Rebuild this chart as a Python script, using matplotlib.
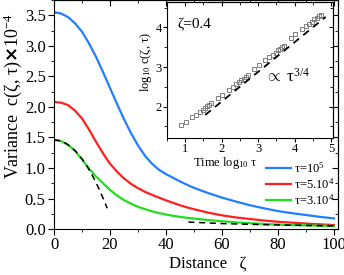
import numpy as np
import matplotlib
matplotlib.use('Agg')
import matplotlib.pyplot as plt
from matplotlib.ticker import MultipleLocator

plt.rcParams['font.family'] = ['Liberation Serif', 'DejaVu Serif']
plt.rcParams['mathtext.fontset'] = 'custom'
plt.rcParams['mathtext.rm'] = 'Liberation Serif'
plt.rcParams['mathtext.it'] = 'Liberation Serif:italic'

# main panel: variance profiles
dist = [0, 2.5, 5, 7.5, 10, 12.5, 15, 17.5, 20, 22.5, 25, 27.5, 30, 32.5, 35, 37.5, 40,
        42.5, 45, 47.5, 50, 55, 60, 65, 70, 75, 80, 85, 90, 95, 100]
var_1e5 = [3.55, 3.53, 3.47, 3.37, 3.23, 3.04, 2.82, 2.57, 2.31, 2.05, 1.80, 1.57, 1.37,
           1.20, 1.07, 0.97, 0.90, 0.84, 0.78, 0.725, 0.675, 0.59, 0.515, 0.45, 0.39, 0.34,
           0.295, 0.26, 0.23, 0.20, 0.175]
var_5e4 = [2.08, 2.07, 2.03, 1.94, 1.81, 1.63, 1.43, 1.24, 1.07, 0.94, 0.83, 0.74, 0.67,
           0.61, 0.56, 0.515, 0.47, 0.43, 0.39, 0.355, 0.325, 0.27, 0.225, 0.19, 0.165, 0.14,
           0.12, 0.105, 0.09, 0.078, 0.066]
var_3e4 = [1.46, 1.44, 1.38, 1.28, 1.14, 0.99, 0.86, 0.75, 0.64, 0.55, 0.475, 0.415, 0.365,
           0.325, 0.29, 0.262, 0.238, 0.218, 0.20, 0.185, 0.172, 0.148, 0.128, 0.11, 0.096,
           0.084, 0.074, 0.066, 0.06, 0.055, 0.05]
labels = [r'τ=10$^5$', r'τ=5.10$^4$', r'τ=3.10$^4$']
colors = ['#1f7fff', '#ff1f1f', '#1fdf1f']

# short distance approximation (dashed)
near_x = [0, 2, 4, 6, 8, 10, 12, 14, 16, 18, 19]
near_y = [1.46, 1.448, 1.41, 1.348, 1.262, 1.15, 1.014, 0.852, 0.666, 0.456, 0.341]
# long distance approximation (dashed)
far_x = [48, 60, 70, 80, 90, 100]
far_y = [0.115, 0.09, 0.078, 0.068, 0.06, 0.053]

# inset: log10 c at zeta=0.4 vs log10 time
log_t = [0.90, 1.02, 1.20, 1.31, 1.40, 1.48, 1.54, 1.60, 1.66, 1.71,
         1.90, 2.02, 2.20, 2.31, 2.40, 2.48, 2.54, 2.60, 2.66, 2.71,
         2.90, 3.02, 3.20, 3.31, 3.40, 3.48, 3.54, 3.60, 3.66, 3.71,
         3.90, 4.02, 4.20, 4.31, 4.40, 4.48, 4.54, 4.60, 4.66, 4.71]
log_c = [1.54, 1.60, 1.73, 1.80, 1.87, 1.92, 1.97, 2.01, 2.05, 2.09,
         2.21, 2.30, 2.43, 2.50, 2.56, 2.61, 2.67, 2.71, 2.75, 2.79,
         2.96, 3.05, 3.18, 3.25, 3.31, 3.36, 3.42, 3.46, 3.50, 3.54,
         3.74, 3.83, 3.96, 4.03, 4.09, 4.14, 4.20, 4.24, 4.28, 4.32]
guide_x = [1.55, 4.85]
guide_y = [1.79, 4.265]


def inner_ticks(a, xmaj, xmin, ymaj, ymin, lmaj, lmin):
    # top and right ticks pointing inwards, no labels
    sx = a.secondary_xaxis('top')
    sy = a.secondary_yaxis('right')
    sx.xaxis.set_major_locator(MultipleLocator(xmaj))
    sx.xaxis.set_minor_locator(MultipleLocator(xmin))
    sy.yaxis.set_major_locator(MultipleLocator(ymaj))
    sy.yaxis.set_minor_locator(MultipleLocator(ymin))
    sx.tick_params(which='both', direction='in', labeltop=False)
    sy.tick_params(which='both', direction='in', labelright=False)
    for s in (sx, sy):
        s.tick_params(which='major', length=lmaj)
        s.tick_params(which='minor', length=lmin)


fig = plt.figure(figsize=(3.44, 2.75), dpi=100)
ax = fig.add_axes([0.157, 0.167, 0.826, 0.833])
for v, lab, c in zip([var_1e5, var_5e4, var_3e4], labels, colors):
    ax.plot(dist, v, color=c, lw=1.6, label=lab)
ax.plot(near_x, near_y, 'k--', lw=1.1, dashes=(4, 3))
ax.plot(far_x, far_y, 'k--', lw=1.1, dashes=(4, 3))
ax.set_xlim(0, 101.5)
ax.set_ylim(0, 3.75)
ax.xaxis.set_major_locator(MultipleLocator(20))
ax.xaxis.set_minor_locator(MultipleLocator(10))
ax.yaxis.set_major_locator(MultipleLocator(0.5))
ax.yaxis.set_minor_locator(MultipleLocator(0.25))
ax.yaxis.set_major_formatter(plt.FormatStrFormatter('%.1f'))
ax.tick_params(which='both', direction='out', labelsize=12, pad=2)
ax.tick_params(which='major', length=4)
ax.tick_params(which='minor', length=2.5)
inner_ticks(ax, 20, 10, 0.5, 0.25, 4, 2.5)

ax.set_xlabel('Distance   ζ', fontsize=12)
ax.xaxis.set_label_coords(0.54, -0.115)
ax.set_ylabel(r'Variance  c(ζ, τ)$\mathbf{\times}$10$^{-4}$', fontsize=13)
ax.yaxis.set_label_coords(-0.105, 0.58)
ax.legend(loc='upper left', bbox_to_anchor=(0.745, 0.297), frameon=False, fontsize=9,
          handlelength=2.0, handletextpad=0.3, labelspacing=0.12, borderpad=0,
          borderaxespad=0)

ins = fig.add_axes([0.485, 0.497, 0.483, 0.497])
ins.plot(log_t, log_c, 's', ms=3.2, mfc='none', mec='#808080', mew=0.7)
ins.plot(guide_x, guide_y, 'k--', lw=1.3, dashes=(4, 3))
ins.set_xlim(0.5, 5.05)
ins.set_ylim(1.2, 4.65)
ins.xaxis.set_major_locator(MultipleLocator(1))
ins.xaxis.set_minor_locator(MultipleLocator(0.5))
ins.yaxis.set_major_locator(MultipleLocator(1))
ins.yaxis.set_minor_locator(MultipleLocator(0.5))
ins.tick_params(which='both', direction='out', labelsize=9, pad=0.5)
ins.tick_params(which='major', length=3)
ins.tick_params(which='minor', length=2)
inner_ticks(ins, 1, 0.5, 1, 0.5, 3, 2)
ins.set_xlabel(r'Time log$_{10}$ τ', fontsize=9, labelpad=0)
ins.xaxis.set_label_coords(0.35, -0.125)
ins.set_ylabel(r'log$_{10}$ c(ζ, τ)', fontsize=9, labelpad=1)
ins.yaxis.set_label_coords(-0.08, 0.56)
ins.text(0.066, 0.83, 'ζ=0.4', transform=ins.transAxes, fontsize=11, va='center')
ins.text(0.59, 0.45, r'$\propto$ τ$^{3/4}$', transform=ins.transAxes, fontsize=12, va='center')

fig.savefig('out.png', dpi=100)
